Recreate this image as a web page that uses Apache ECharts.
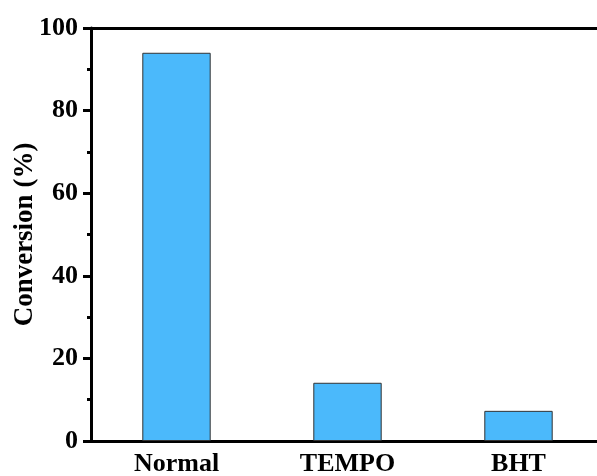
<!DOCTYPE html>
<html><head><meta charset="utf-8">
<script src="https://cdn.jsdelivr.net/npm/echarts@6/dist/echarts.min.js"></script>
<style>html,body{margin:0;padding:0;background:#fff}#c{width:597px;height:476px}</style>
</head><body><div id="c"></div>
<script>
const categories = ["Normal", "TEMPO", "BHT"];
const conversion = [94.0, 14.1, 7.3];
const yTicks = [0, 20, 40, 60, 80, 100];

const font = '"Liberation Serif", "Times New Roman", serif';
const chart = echarts.init(document.getElementById('c'));
chart.setOption({
  animation: false,
  grid: { left: 91, right: -7, top: 28, bottom: 35, containLabel: false, outerBoundsMode: 'none' },
  xAxis: [{
    type: 'category', data: categories, position: 'bottom',
    axisLine: { show: true, lineStyle: { color: '#000', width: 3 } },
    axisTick: { show: false },
    axisLabel: { color: '#000', fontFamily: font, fontWeight: 'bold', fontSize: 26, margin: 10 }
  }, {
    type: 'category', data: categories, position: 'top',
    axisLine: { show: true, onZero: false, lineStyle: { color: '#000', width: 3 } },
    axisTick: { show: false }, axisLabel: { show: false }
  }],
  yAxis: {
    type: 'value', min: yTicks[0], max: yTicks[yTicks.length - 1], interval: 20,
    name: 'Conversion (%)', nameLocation: 'middle', nameGap: 52, nameMoveOverlap: false,
    nameTextStyle: { color: '#000', fontFamily: font, fontWeight: 'bold', fontSize: 27 },
    axisLine: { show: true, lineStyle: { color: '#000', width: 3 } },
    axisTick: { show: true, inside: false, length: 8, lineStyle: { color: '#000', width: 3 } },
    minorTick: { show: true, splitNumber: 2, length: 4, lineStyle: { color: '#000', width: 3 } },
    splitLine: { show: false },
    axisLabel: { color: '#000', fontFamily: font, fontWeight: 'bold', fontSize: 26, margin: 13 }
  },
  series: [{
    type: 'bar', data: conversion, barWidth: '40%',
    itemStyle: { color: '#4bb9fb', borderColor: '#333', borderWidth: 1 }
  }]
});
</script></body></html>
